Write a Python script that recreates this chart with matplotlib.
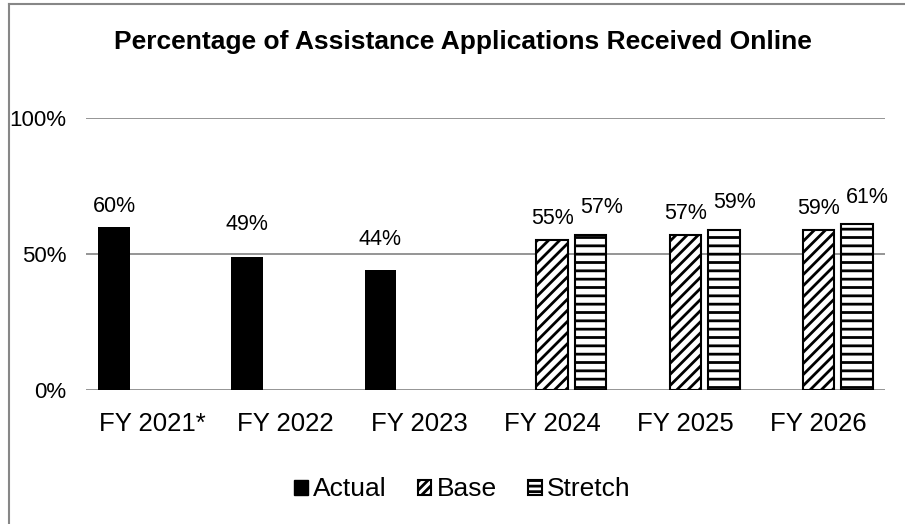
import matplotlib
matplotlib.use("Agg")
import matplotlib.pyplot as plt
from matplotlib.patches import Patch
from matplotlib.lines import Line2D
import numpy as np

plt.rcParams["font.family"] = ["Liberation Sans", "DejaVu Sans"]
plt.rcParams["hatch.linewidth"] = 2.0

# data
years = ["FY 2021*", "FY 2022", "FY 2023", "FY 2024", "FY 2025", "FY 2026"]
actual = [60, 49, 44, None, None, None]
base = [None, None, None, 55, 57, 59]
stretch = [None, None, None, 57, 59, 61]

fig = plt.figure(figsize=(9.05, 5.24), dpi=100)
ax = fig.add_axes([0.095, 0.2557, 0.883, 0.519])

x = np.arange(len(years))
w = 0.235
slot = 0.29

def bars(vals, off, **kw):
    xs = [x[i] + off for i, v in enumerate(vals) if v is not None]
    hs = [v / 100 for v in vals if v is not None]
    return ax.bar(xs, hs, w, **kw), xs, hs

_, xa, ha = bars(actual, -slot, color="black", edgecolor="black", linewidth=0)
_, xb, hb = bars(base, 0, color="white", edgecolor="black", linewidth=1.5, hatch="///")
_, xs_, hs_ = bars(stretch, slot, color="white", edgecolor="black", linewidth=1.5, hatch="--")

# data labels (offsets in points, roughly as in the source)
lab_dy_actual = [14.5, 23, 22.5]
for xx, h, dy in zip(xa, ha, lab_dy_actual):
    ax.annotate(f"{h*100:.0f}%", (xx, h), xytext=(0, dy), textcoords="offset points",
                ha="center", va="center", fontsize=15.5)
for xx, h in zip(xb, hb):
    ax.annotate(f"{h*100:.0f}%", (xx, h), xytext=(0, 15.5), textcoords="offset points",
                ha="center", va="center", fontsize=15.5)
for xx, h in zip(xs_, hs_):
    ax.annotate(f"{h*100:.0f}%", (xx, h), xytext=(7.5, 19.5), textcoords="offset points",
                ha="center", va="center", fontsize=15.5)

ax.set_xlim(-0.5, len(years) - 0.5)
ax.set_ylim(0, 1.0)
ax.set_yticks([0, 0.5, 1.0])
ax.set_yticklabels(["0%", "50%", "100%"], fontsize=16)
ax.set_xticks(x)
ax.set_xticklabels(years, fontsize=18.5)
ax.tick_params(axis="both", length=0)
ax.tick_params(axis="y", pad=14)
ax.tick_params(axis="x", pad=16)
for s in ax.spines.values():
    s.set_visible(False)
ax.yaxis.grid(True, color="#8c8c8c", linewidth=1.3)
ax.set_axisbelow(True)

fig.text(0.512, 0.92, "Percentage of Assistance Applications Received Online",
         ha="center", va="center", fontsize=19, fontweight="bold")

handles = [Patch(facecolor="black", edgecolor="black"),
           Patch(facecolor="white", edgecolor="black", hatch="////", linewidth=1.5),
           Patch(facecolor="white", edgecolor="black", hatch="---", linewidth=1.5)]
fig.legend(handles, ["Actual", "Base", "Stretch"], loc="center", bbox_to_anchor=(0.511, 0.066),
           ncol=3, frameon=False, fontsize=19, handlelength=0.5, handleheight=0.5,
           handletextpad=0.2, columnspacing=1.2)

# chart border (left and top visible)
fig.add_artist(Line2D([0.0099, 0.0099], [0, 0.992], color="#878787", linewidth=1.5))
fig.add_artist(Line2D([0.0099, 1.0], [0.992, 0.992], color="#878787", linewidth=1.5))

fig.savefig("out.png", dpi=100)
